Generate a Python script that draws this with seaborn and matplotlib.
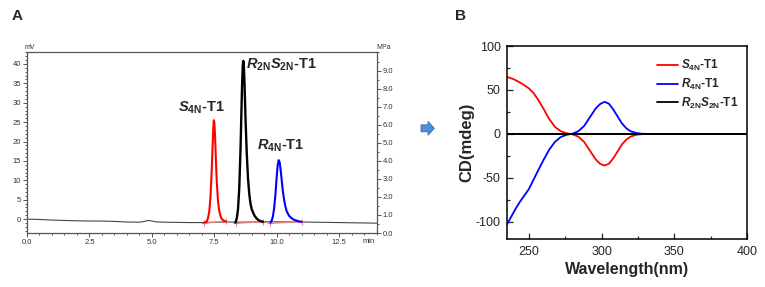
import numpy as np
import pandas as pd
import matplotlib
matplotlib.use('Agg')
import matplotlib.pyplot as plt
from matplotlib.patches import Polygon
from matplotlib.ticker import MultipleLocator, FormatStrFormatter
import seaborn as sns

# ---- Panel A : HPLC chromatogram (mV vs min) ----
base_t = [0.0, 0.5, 1.0, 1.5, 2.0, 2.5, 3.0, 3.5, 4.0, 4.5, 4.7, 4.85, 5.0, 5.2, 5.5,
          6.0, 6.5, 7.0, 7.5, 8.0, 8.5, 9.0, 9.5, 10.0, 10.5, 11.0, 11.5, 12.0, 12.5,
          13.0, 13.5, 14.0]
base_mv = [0.0, -0.1, -0.25, -0.35, -0.45, -0.5, -0.5, -0.6, -0.75, -0.8, -0.6, -0.35,
           -0.5, -0.75, -0.8, -0.85, -0.9, -0.9, -0.8, -0.75, -0.8, -0.75, -0.7, -0.7,
           -0.75, -0.75, -0.8, -0.85, -0.9, -0.95, -1.0, -1.05]

red_t = [7.10, 7.20, 7.25, 7.30, 7.35, 7.40, 7.43, 7.46, 7.48, 7.50, 7.53, 7.56, 7.60,
         7.65, 7.70, 7.75, 7.80, 7.90, 7.97]
red_mv = [-0.9, -0.6, 0.3, 2.0, 6.0, 13.0, 18.5, 23.5, 25.5, 25.0, 21.5, 16.0, 9.5,
          4.5, 2.0, 0.8, 0.0, -0.5, -0.6]

blk_t = [8.35, 8.40, 8.45, 8.50, 8.55, 8.58, 8.61, 8.64, 8.66, 8.68, 8.71, 8.75, 8.80,
         8.85, 8.90, 8.95, 9.00, 9.10, 9.20, 9.30, 9.45]
blk_mv = [-0.9, 0.2, 2.5, 8.0, 18.0, 26.0, 34.0, 39.5, 40.8, 40.0, 35.0, 26.0, 17.0,
          10.5, 6.5, 4.0, 2.5, 1.0, 0.1, -0.4, -0.7]

blu_t = [9.75, 9.80, 9.85, 9.90, 9.95, 10.00, 10.04, 10.08, 10.12, 10.16, 10.20, 10.25,
         10.30, 10.35, 10.40, 10.50, 10.60, 10.70, 10.80, 10.90, 11.00]
blu_mv = [-0.9, -0.4, 0.8, 3.0, 6.5, 11.0, 14.0, 15.2, 14.6, 12.5, 10.0, 7.0,
          4.8, 3.2, 2.0, 0.8, 0.2, -0.2, -0.4, -0.6, -0.7]

# integration baseline marks (start, end) for each peak
int_t = [[7.10, 7.97], [8.35, 9.45], [9.75, 11.00]]
int_mv = [[-1.1, -0.5], [-1.1, -0.7], [-1.1, -0.7]]

# ---- Panel B : CD spectra ----
wl_s4n = [235, 240, 245, 250, 253, 256, 260, 264, 268, 272, 276, 280, 284, 288, 292,
          296, 299, 302, 305, 308, 311, 314, 317, 320, 324, 328, 332, 400]
cd_s4n = [65, 62, 57.5, 52, 47, 40, 29, 17, 8, 3, 0.8, -0.5, -3, -9, -19,
          -29, -34, -36, -34, -28, -20, -12, -6.5, -3, -1, -0.2, 0, 0]
wl_r4n = [235, 238, 241, 244, 247, 250, 253, 256, 260, 264, 268, 272, 276, 280, 284,
          288, 292, 296, 299, 302, 305, 308, 311, 314, 317, 320, 324, 328, 332, 400]
cd_r4n = [-103, -94, -85, -77, -70, -63, -53, -43, -30, -18, -9, -3.5, -1, 0.3, 3,
          9, 19, 29, 34, 36.5, 34.5, 28, 20, 12, 6.5, 3, 1, 0.2, 0, 0]
wl_rs = [235, 400]
cd_rs = [0, 0]

lab_s4n = r'$S_{\mathrm{4N}}$-T1'
lab_r4n = r'$R_{\mathrm{4N}}$-T1'
lab_rs = r'$R_{\mathrm{2N}}S_{\mathrm{2N}}$-T1'

sns.set_style('white')
plt.rcParams['font.family'] = ['Liberation Sans', 'DejaVu Sans']
plt.rcParams['axes.unicode_minus'] = False
plt.rcParams['mathtext.fontset'] = 'custom'
plt.rcParams['mathtext.it'] = 'Liberation Sans:bold:italic'
plt.rcParams['mathtext.rm'] = 'Liberation Sans:bold'
plt.rcParams['mathtext.bf'] = 'Liberation Sans:bold'

fig = plt.figure(figsize=(7.65, 2.87), dpi=100)

# ================= Panel A =================
axA = fig.add_axes([0.0353, 0.188, 0.457, 0.631])
grey = '#555555'
sns.lineplot(x=base_t, y=base_mv, ax=axA, color='#444444', lw=0.8)
for t, m in zip(int_t, int_mv):
    axA.plot(t, m, color='#f08080', lw=0.9, marker='+', ms=4, mew=0.8)
sns.lineplot(x=red_t, y=red_mv, ax=axA, color='#ff0000', lw=1.5)
sns.lineplot(x=blk_t, y=blk_mv, ax=axA, color='black', lw=1.7)
sns.lineplot(x=blu_t, y=blu_mv, ax=axA, color='#0000ff', lw=1.5)

axA.set_xlim(0, 14)
axA.set_ylim(-3.6, 43.1)
axA.set_xticks([0, 2.5, 5, 7.5, 10, 12.5])
axA.xaxis.set_major_formatter(FormatStrFormatter('%.1f'))
axA.xaxis.set_minor_locator(MultipleLocator(0.5))
axA.set_yticks(range(0, 45, 5))
axA.yaxis.set_minor_locator(MultipleLocator(1))
axA.tick_params(which='both', direction='out', colors=grey, labelsize=5.5,
                labelcolor='#333333', width=0.7, pad=1.5)
axA.tick_params(which='major', length=3)
axA.tick_params(which='minor', length=1.5)
axA.tick_params(axis='x', which='both', bottom=True)
axA.tick_params(axis='y', which='both', left=True)
for sp in axA.spines.values():
    sp.set_color(grey)
    sp.set_linewidth(0.9)
axA.set_xlabel('')
axA.set_ylabel('')

axA2 = axA.twinx()
axA2.set_ylim(0, 10.03)
axA2.set_yticks(range(0, 10))
axA2.yaxis.set_major_formatter(FormatStrFormatter('%.1f'))
axA2.yaxis.set_minor_locator(MultipleLocator(0.5))
axA2.tick_params(which='both', direction='out', colors=grey, labelsize=5.5,
                 labelcolor='#333333', width=0.7, pad=1.5, right=True)
axA2.tick_params(which='major', length=3)
axA2.tick_params(which='minor', length=1.5)
for sp in axA2.spines.values():
    sp.set_visible(False)

axA.text(-0.1, 43.4, 'mV', fontsize=5, color='#333333', ha='left', va='bottom')
axA.text(14.0, 43.4, 'MPa', fontsize=5, color='#333333', ha='left', va='bottom')
axA.text(13.7, -4.8, 'min', fontsize=5.5, color='#333333', ha='center', va='top')

axA.text(6.98, 28.6, lab_s4n, fontsize=10.5, fontweight='bold', ha='center', va='center')
axA.text(10.18, 39.7, lab_rs, fontsize=10.5, fontweight='bold', ha='center', va='center')
axA.text(10.16, 18.8, lab_r4n, fontsize=10.5, fontweight='bold', ha='center', va='center')

fig.text(17 / 765, 1 - 16 / 287, 'A', fontsize=11, fontweight='bold', ha='center', va='center')
fig.text(461 / 765, 1 - 16 / 287, 'B', fontsize=11, fontweight='bold', ha='center', va='center')

# arrow between panels (drawn in inches)
yc = (287 - 128.3) / 100
arrow = Polygon([[4.21, yc - 0.035], [4.28, yc - 0.035], [4.28, yc - 0.07],
                 [4.343, yc], [4.28, yc + 0.07], [4.28, yc + 0.035], [4.21, yc + 0.035]],
                closed=True, facecolor='#4f8fd6', edgecolor='#3a6fb0', lw=0.6,
                transform=fig.dpi_scale_trans)
fig.patches.append(arrow)

# ================= Panel B =================
axB = fig.add_axes([0.6627, 0.166, 0.3138, 0.6735])
df_cd = pd.concat([
    pd.DataFrame({'wl': wl_s4n, 'cd': cd_s4n, 'sample': lab_s4n}),
    pd.DataFrame({'wl': wl_r4n, 'cd': cd_r4n, 'sample': lab_r4n}),
    pd.DataFrame({'wl': wl_rs, 'cd': cd_rs, 'sample': lab_rs}),
])
sns.lineplot(data=df_cd, x='wl', y='cd', hue='sample', ax=axB, lw=1.3,
             palette={lab_s4n: '#ff0000', lab_r4n: '#0000ff', lab_rs: 'black'})
# redraw black zero line on top
sns.lineplot(x=wl_rs, y=cd_rs, ax=axB, color='black', lw=1.3, legend=False)

axB.set_xlim(235, 400)
axB.set_ylim(-120, 100)
axB.set_xticks([250, 300, 350, 400])
axB.xaxis.set_minor_locator(MultipleLocator(25))
axB.set_yticks([-100, -50, 0, 50, 100])
axB.yaxis.set_minor_locator(MultipleLocator(25))
axB.tick_params(which='both', direction='in', labelsize=9, width=0.9,
                bottom=True, left=True, pad=4.5)
axB.tick_params(which='major', length=4)
axB.tick_params(which='minor', length=2.5)
for sp in axB.spines.values():
    sp.set_color('black')
    sp.set_linewidth(1.1)
axB.set_xlabel('Wavelength(nm)', fontsize=11.5, fontweight='bold', labelpad=3)
axB.set_ylabel('CD(mdeg)', fontsize=12, fontweight='bold', labelpad=1)

leg = axB.legend(loc='upper right', frameon=False, prop={'weight': 'bold', 'size': 8.5},
                 handlelength=1.8, handletextpad=0.3, labelspacing=0.3,
                 bbox_to_anchor=(1.0, 0.98), borderaxespad=0.3)
for h in leg.get_lines():
    h.set_linewidth(1.3)

fig.savefig('out.png', dpi=100)
